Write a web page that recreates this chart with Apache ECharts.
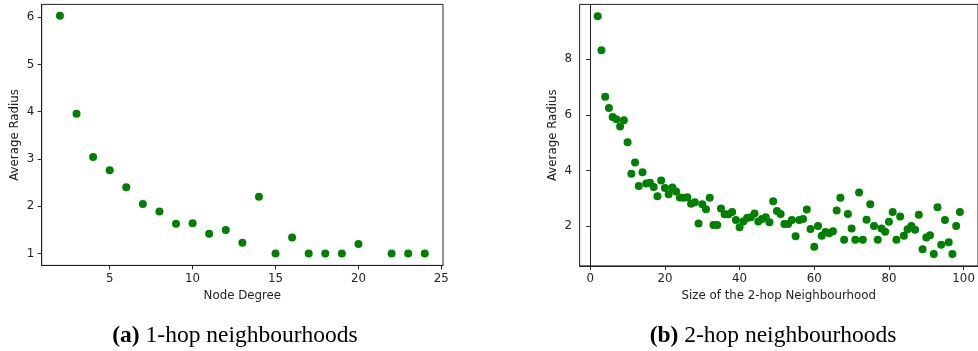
<!DOCTYPE html>
<html>
<head>
<meta charset="utf-8">
<script src="https://cdn.jsdelivr.net/npm/echarts@6/dist/echarts.min.js"></script>
<style>
html,body{margin:0;padding:0;background:#fff;}
#chart{width:978px;height:351px;}
</style>
</head>
<body>
<div id="chart"></div>
<script>
// Panel (a): 1-hop neighbourhoods
const degreeX = [2,3,4,5,6,7,8,9,10,11,12,13,14,15,16,17,18,19,20,22,23,24];
const degreeRadius = [6.03,3.96,3.04,2.76,2.40,2.05,1.89,1.63,1.64,1.42,1.50,1.23,2.20,1.00,1.34,1.00,1.00,1.00,1.20,1.00,1.00,1.00];
const xTicksA = [5,10,15,20,25];
const yTicksA = [1,2,3,4,5,6];

// Panel (b): 2-hop neighbourhoods
const sizeX = [2,3,4,5,6,7,8,9,10,11,12,13,14,15,16,17,18,19,20,21,22,23,24,25,26,27,28,29,30,
  31,32,33,34,35,36,37,38,39,40,41,42,43,44,45,46,47,48,49,50,51,52,53,54,55,56,57,58,59,60,
  61,62,63,64,65,66,67,68,69,70,71,72,73,74,75,76,77,78,79,80,81,82,83,84,85,86,87,88,89,90,
  91,92,93,94,95,96,97,98,99];
const sizeRadius = [9.54,8.32,6.65,6.25,5.92,5.84,5.58,5.81,5.02,3.88,4.29,3.44,3.94,3.53,3.56,3.41,3.08,3.64,3.37,3.15,3.39,3.25,3.03,3.02,3.04,2.81,2.86,2.10,2.79,
  2.61,3.02,2.04,2.04,2.64,2.43,2.43,2.51,2.22,1.96,2.17,2.29,2.32,2.46,2.17,2.26,2.32,2.14,2.90,2.55,2.44,2.08,2.08,2.22,1.64,2.22,2.26,2.60,1.90,1.26,
  2.01,1.66,1.79,1.75,1.82,2.56,3.02,1.51,2.44,1.92,1.51,3.21,1.51,2.23,2.79,2.01,1.51,1.92,1.80,2.16,2.51,1.51,2.35,1.66,1.89,2.01,1.87,2.41,1.17,1.59,
  1.67,1.00,2.68,1.33,2.22,1.42,1.00,2.01,2.51];
const xTicksB = [0,20,40,60,80,100];
const yTicksB = [2,4,6,8];

const FONT = 'DejaVu Sans';
const INK = '#222';

function zip(xs, ys){ return xs.map((x,i)=>[x, ys[i]]); }

function xAxisCfg(idx, min, max, ticks, name){
  return {
    type:'value', gridIndex:idx, min:min, max:max,
    name:name, nameLocation:'middle', nameGap:23,
    nameTextStyle:{fontFamily:FONT, fontSize:11.8, color:INK},
    splitLine:{show:false},
    axisLine:{show:true, lineStyle:{color:INK, width:1}},
    axisTick:{show:true, inside:false, length:4, lineStyle:{color:INK}, customValues:ticks},
    axisLabel:{fontFamily:FONT, fontSize:11.8, color:INK, margin:7.5, customValues:ticks, showMinLabel:true, showMaxLabel:true}
  };
}
function yAxisCfg(idx, min, max, ticks, name){
  return {
    type:'value', gridIndex:idx, min:min, max:max,
    name:name, nameLocation:'middle', nameGap:21, nameRotate:90,
    nameTextStyle:{fontFamily:FONT, fontSize:11.8, color:INK},
    splitLine:{show:false},
    axisLine:{show:true, lineStyle:{color:INK, width:1}},
    axisTick:{show:true, inside:false, length:4, lineStyle:{color:INK}, customValues:ticks},
    axisLabel:{fontFamily:FONT, fontSize:11.8, color:INK, margin:7.5, customValues:ticks}
  };
}

const chart = echarts.init(document.getElementById('chart'), null, {renderer:'canvas'});
chart.setOption({
  backgroundColor:'#fff',
  animation:false,
  grid:[
    {left:41.7, top:4.4, width:401.3, height:261, show:true, borderColor:INK, borderWidth:1, backgroundColor:'transparent'},
    {left:579.6, top:4.4, width:400.6, height:261.5, show:true, borderColor:INK, borderWidth:1, backgroundColor:'transparent'}
  ],
  xAxis:[
    xAxisCfg(0, 0.9, 25.1, xTicksA, 'Node Degree'),
    xAxisCfg(1, -2.85, 103.85, xTicksB, 'Size of the 2-hop Neighbourhood')
  ],
  yAxis:[
    yAxisCfg(0, 0.749, 6.271, yTicksA, 'Average Radius'),
    yAxisCfg(1, 0.573, 9.97, yTicksB, 'Average Radius')
  ],
  series:[
    {type:'scatter', xAxisIndex:0, yAxisIndex:0, data:zip(degreeX, degreeRadius), symbol:'circle', symbolSize:8, itemStyle:{color:'#008000', opacity:1}},
    {type:'scatter', xAxisIndex:1, yAxisIndex:1, data:zip(sizeX, sizeRadius), symbol:'circle', symbolSize:8, itemStyle:{color:'#008000', opacity:1}}
  ],
  graphic:[
    {type:'text', left:null, x:235, y:336, style:{
      text:'{b|(a)} 1-hop neighbourhoods', x:0, y:0, align:'center', verticalAlign:'middle',
      fontFamily:'Liberation Serif', fontSize:23.5, fill:'#000',
      rich:{b:{fontWeight:'bold', fontFamily:'Liberation Serif', fontSize:23.5, fill:'#000'}}
    }},
    {type:'text', x:773, y:336, style:{
      text:'{b|(b)} 2-hop neighbourhoods', x:0, y:0, align:'center', verticalAlign:'middle',
      fontFamily:'Liberation Serif', fontSize:23.5, fill:'#000',
      rich:{b:{fontWeight:'bold', fontFamily:'Liberation Serif', fontSize:23.5, fill:'#000'}}
    }}
  ]
});
</script>
</body>
</html>
